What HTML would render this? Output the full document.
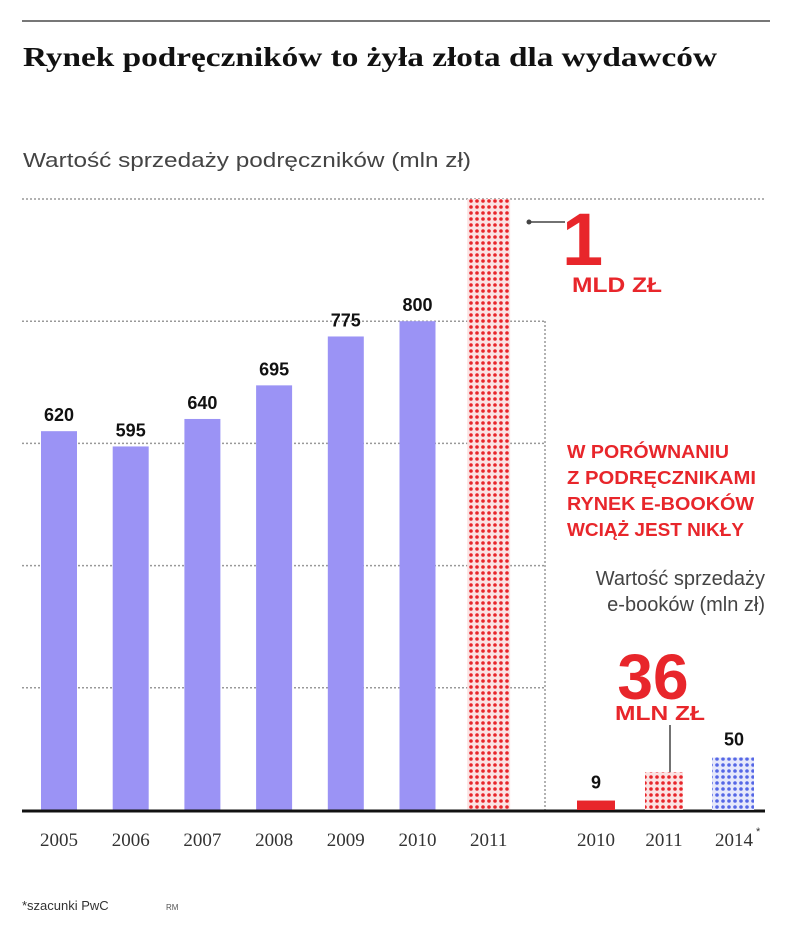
<!DOCTYPE html>
<html><head><meta charset="utf-8">
<style>
html,body{margin:0;padding:0;background:#fff;}
svg{display:block;}
text{font-family:"Liberation Sans",sans-serif;}
.serif{font-family:"Liberation Serif",serif;}
</style></head>
<body>
<svg id="chart" width="805" height="928" viewBox="0 0 805 928" xmlns="http://www.w3.org/2000/svg">
<defs>
<pattern id="redDots" width="6" height="6" patternUnits="userSpaceOnUse"><rect width="6" height="6" fill="#fbe3e3"/><circle cx="3" cy="3" r="1.8" fill="#e8262b"/></pattern>
<pattern id="blueDots" width="6" height="6" patternUnits="userSpaceOnUse"><rect width="6" height="6" fill="#e6e8fb"/><circle cx="3" cy="3" r="1.8" fill="#5567e6"/></pattern>
</defs>
<line x1="22" y1="21" x2="770" y2="21" stroke="#777" stroke-width="2"/>
<text x="23" y="66" class="serif" font-size="27" font-weight="bold" fill="#111" textLength="694" lengthAdjust="spacingAndGlyphs">Rynek podręczników to żyła złota dla wydawców</text>
<text x="23" y="167" font-size="20" fill="#444" textLength="448" lengthAdjust="spacingAndGlyphs">Wartość sprzedaży podręczników (mln zł)</text>
<g id="grid"></g>
<g id="bars"></g>
<line x1="545" y1="321" x2="545" y2="810" stroke="#999" stroke-width="1.5" stroke-dasharray="2,2"/>
<line x1="22" y1="811" x2="765" y2="811" stroke="#111" stroke-width="3"/>
<line x1="529" y1="222" x2="565" y2="222" stroke="#444" stroke-width="1.5"/>
<circle cx="529" cy="222" r="2.5" fill="#444"/>
<text x="562" y="265" font-size="74" font-weight="bold" fill="#e8262b">1</text>
<text x="572" y="292" font-size="21" font-weight="bold" fill="#e8262b" textLength="90" lengthAdjust="spacingAndGlyphs">MLD ZŁ</text>
<g font-size="18" font-weight="bold" fill="#e8262b">
<text x="567" y="458" textLength="162" lengthAdjust="spacingAndGlyphs">W PORÓWNANIU</text>
<text x="567" y="484" textLength="189" lengthAdjust="spacingAndGlyphs">Z PODRĘCZNIKAMI</text>
<text x="567" y="510" textLength="187" lengthAdjust="spacingAndGlyphs">RYNEK E-BOOKÓW</text>
<text x="567" y="536" textLength="177" lengthAdjust="spacingAndGlyphs">WCIĄŻ JEST NIKŁY</text>
</g>
<text x="765" y="585" font-size="20" fill="#444" text-anchor="end">Wartość sprzedaży</text>
<text x="765" y="611" font-size="20" fill="#444" text-anchor="end">e-booków (mln zł)</text>
<text x="653" y="699" font-size="64" font-weight="bold" fill="#e8262b" text-anchor="middle">36</text>
<text x="615" y="720" font-size="20" font-weight="bold" fill="#e8262b" textLength="90" lengthAdjust="spacingAndGlyphs">MLN ZŁ</text>
<line x1="670" y1="725" x2="670" y2="782" stroke="#444" stroke-width="1.5"/>
<circle cx="670" cy="783" r="2.5" fill="#444"/>
<g id="ebars"></g>
<g id="xlabels"></g>
<text x="22" y="910" font-size="13" fill="#333">*szacunki PwC</text>
<text x="166" y="910" font-size="8" fill="#555">RM</text>
</svg>
<script>
const years = ["2005","2006","2007","2008","2009","2010","2011"];
const values = [620, 595, 640, 695, 775, 800, 1000];
const gridTicks = [200, 400, 600, 800, 1000];
const ebookYears = ["2010","2011","2014*"];
const ebookValues = [9, 36, 50];
const NS = "http://www.w3.org/2000/svg";
const base = 810;
function y(v){ return base - v * 0.611; }
function x(i){ return 41 + i * 71.7; }
function ey(v){ return base - v * 1.05; }
function ex(i){ return 577 + i * 68; }
function mk(tag, attrs, parent){ const e=document.createElementNS(NS,tag); for(const k in attrs) e.setAttribute(k,attrs[k]); parent.appendChild(e); return e; }
const grid=document.getElementById('grid'), bars=document.getElementById('bars'), eb=document.getElementById('ebars'), xl=document.getElementById('xlabels');
gridTicks.forEach(t=>{
  const l=mk('line',{x1:22,x2:t===1000?765:545,y1:y(t),y2:y(t),stroke:'#999','stroke-width':1.5,'stroke-dasharray':'2,2'},grid);
  
  
});
values.forEach((v,i)=>{
  const last = i===values.length-1;
  const w = last ? 43 : 36;
  const bx = last ? x(i)-4 : x(i);
  const r=mk('rect',{x:bx,y:y(v),width:w,height:base-y(v),fill:last?'url(#redDots)':'#9b93f5'},bars);
  
  
  if(!last){
    const t=mk('text',{x:bx+w/2,y:y(v)-10,'text-anchor':'middle','font-size':18,'font-weight':'bold',fill:'#111'},bars);
    t.textContent=v;
    
    
  }
  const lt=mk('text',{x:bx+w/2,y:846,'text-anchor':'middle','font-size':19,fill:'#333',class:'serif'},xl);
  lt.textContent=years[i];
  
  
});
ebookValues.forEach((v,i)=>{
  const w = i===2 ? 42 : 38;
  const h = Math.max(base-ey(v),4);
  const r=mk('rect',{x:ex(i)+(i===2?-1:0),y:base-h,width:w,height:h,fill:i===0?'#e8262b':(i===1?'url(#redDots)':'url(#blueDots)')},eb);
  
  
  if(i!==1){
    const t=mk('text',{x:ex(i)+w/2,y:base-h-12,'text-anchor':'middle','font-size':18,'font-weight':'bold',fill:'#111'},eb);
    t.textContent=v;
    
    
  }
  const lt=mk('text',{x:ex(i)+w/2,y:846,'text-anchor':'middle','font-size':19,fill:'#333',class:'serif'},xl);
  lt.textContent=ebookYears[i].replace('*','');
  
  
  if(ebookYears[i].includes('*')){
    const s=mk('text',{x:ex(i)+w/2+22,y:835,'font-size':11,fill:'#333'},xl);
    s.textContent='*';
    
    
  }
});
</script>
</body></html>
